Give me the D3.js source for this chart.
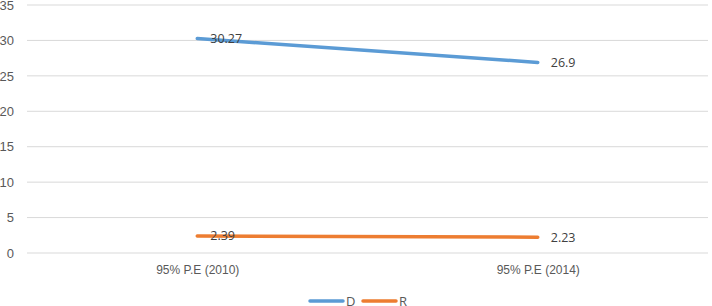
<!DOCTYPE html>
<html>
<head>
<meta charset="utf-8">
<script src="https://cdn.jsdelivr.net/npm/d3@7"></script>
<style>
  body { margin: 0; background: #fff; }
  svg { display: block; font-family: "Open Sans", "Liberation Sans", sans-serif; }
</style>
</head>
<body>
<svg id="chart" width="712" height="306"></svg>
<script>
// chart data
const categories = ["95% P.E (2010)", "95% P.E (2014)"];
const seriesNames = ["D", "R"];
const valuesD = [30.27, 26.9];
const valuesR = [2.39, 2.23];
const yTicks = [0, 5, 10, 15, 20, 25, 30, 35];
const colors = ["#5b9bd5", "#ed7d31"];

const svg = d3.select("#chart");
const margin = {left: 27, right: 4, top: 5, bottom: 53};
const width = 712 - margin.left - margin.right;
const height = 306 - margin.top - margin.bottom;

const g = svg.append("g").attr("transform", `translate(${margin.left},${margin.top})`);

const x = d3.scalePoint().domain(categories).range([0, width]).padding(0.5);
const y = d3.scaleLinear().domain([0, 35]).range([height, 0]);

// gridlines
g.selectAll(".grid").data(yTicks).join("line")
  .attr("class", "grid")
  .attr("x1", 0).attr("x2", width)
  .attr("y1", d => y(d)).attr("y2", d => y(d))
  .attr("stroke", "#d9d9d9").attr("stroke-width", 1);

// y axis labels
const yAxis = g.append("g").call(d3.axisLeft(y).tickValues(yTicks).tickSize(0).tickPadding(13));
yAxis.select(".domain").remove();
yAxis.selectAll("text").attr("fill", "#595959").style("font-size", "13px");

// x axis labels
const xAxis = g.append("g").attr("transform", `translate(0,${height})`)
  .call(d3.axisBottom(x).tickSize(0).tickPadding(12));
xAxis.select(".domain").remove();
xAxis.selectAll("text").attr("fill", "#595959").style("font-size", "12px");

const series = [valuesD, valuesR];
const line = d3.line().x((d, i) => x(categories[i])).y(d => y(d));

series.forEach((vals, si) => {
  g.append("path").datum(vals)
    .attr("d", line)
    .attr("fill", "none")
    .attr("stroke", colors[si])
    .attr("stroke-width", 3.5)
    .attr("stroke-linecap", "round");

  g.selectAll(".lbl" + si).data(vals).join("text")
    .attr("x", (d, i) => x(categories[i]) + 13)
    .attr("y", d => y(d))
    .attr("dy", "0.35em")
    .attr("fill", "#404040")
    .style("font-size", "12.5px")
    .text(d => d);
});

// legend
const legend = svg.append("g").attr("transform", "translate(310,301)");
seriesNames.forEach((name, i) => {
  const lg = legend.append("g").attr("transform", `translate(${i * 53},0)`);
  lg.append("line").attr("x1", 0).attr("x2", 33).attr("y1", 0).attr("y2", 0)
    .attr("stroke", colors[i]).attr("stroke-width", 3.5).attr("stroke-linecap", "round");
  lg.append("text").attr("x", 36).attr("y", 0).attr("dy", "0.35em")
    .attr("fill", "#595959").style("font-size", "13px").text(name);
});
</script>
</body>
</html>
